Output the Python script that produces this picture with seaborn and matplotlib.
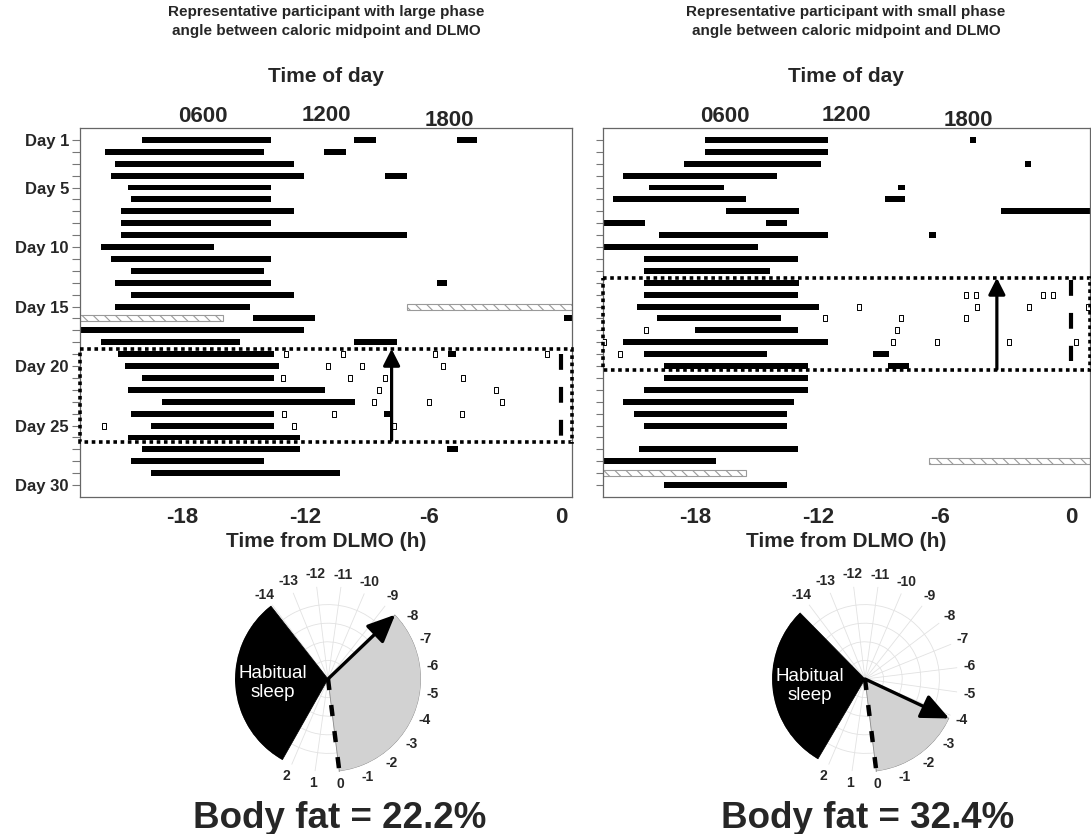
import numpy as np
import pandas as pd
import matplotlib
matplotlib.use("Agg")
import matplotlib.pyplot as plt
import matplotlib.transforms as mtransforms
from matplotlib.path import Path
from matplotlib.patches import Rectangle
import seaborn as sns

# ---------------- data ----------------
days = list(range(1, 31))
day_labels = [f"Day {d}" if (d == 1 or d % 5 == 0) else "" for d in days]

clock_ticks = [6, 12, 18]
clock_labels = ["0600", "1200", "1800"]
dlmo_labels = ["-18", "-12", "-6", "0"]
left_dlmo_ticks = [5.0, 11.0, 17.0, 23.5]      # clock hour of the DLMO-relative labels
right_dlmo_ticks = [4.56, 10.6, 16.6, 23.1]

# Left participant (large phase angle): black bars, clock hours
left_bar_day = [1, 1, 1, 2, 2, 3, 4, 4, 5, 6, 7, 8, 9, 10, 11, 12, 13, 13, 14, 15, 16, 16, 17,
                18, 18, 19, 19, 20, 21, 22, 23, 24, 24, 25, 26, 27, 27, 28, 29]
left_bar_start = [3.03, 13.39, 18.40, 1.20, 11.92, 1.71, 1.51, 14.90, 2.32, 2.51, 2.01, 2.01, 2.01,
                  1.01, 1.51, 2.51, 1.71, 17.40, 2.51, 1.71, 8.46, 23.6, 0.0, 1.01, 13.39, 1.83,
                  17.95, 2.19, 3.02, 2.32, 3.99, 2.51, 14.85, 3.47, 2.32, 3.02, 17.9, 2.51, 3.47]
left_bar_end = [9.32, 14.43, 19.39, 8.98, 12.96, 10.45, 10.95, 15.94, 9.32, 9.32, 10.45, 9.32, 15.94,
                6.52, 9.32, 8.98, 9.32, 17.92, 10.45, 8.31, 11.47, 24.0, 10.95, 7.79, 15.44, 9.48,
                18.35, 9.73, 9.48, 11.96, 13.43, 9.48, 15.1, 9.48, 10.72, 10.72, 18.44, 8.98, 12.69]
left_meal_day = [19, 19, 19, 19, 20, 20, 20, 21, 21, 21, 21, 22, 22, 23, 23, 23, 24, 24, 24, 25, 25, 25]
left_meal_time = [10.05, 12.82, 17.32, 22.78, 12.12, 13.77, 17.72, 9.91, 13.18, 14.9, 18.7,
                  14.6, 20.3, 14.33, 17.04, 20.57, 9.96, 12.37, 18.64, 1.15, 10.45, 15.33]
left_hatch_day = [15, 16]
left_hatch_start = [15.94, 0.0]
left_hatch_end = [24.0, 6.97]
left_window = [18.56, 26.34]        # day range of the dotted window
left_dlmo_line = 23.45               # clock hour of DLMO
left_dlmo_days = [19.0, 25.9]
left_cal_mid_clock = 15.2

# Right participant (small phase angle)
right_bar_day = [1, 1, 2, 3, 3, 4, 5, 5, 6, 6, 7, 7, 8, 8, 9, 9, 10, 11, 12, 13, 14, 15, 16, 17,
                 18, 19, 19, 20, 20, 21, 22, 23, 24, 25, 27, 28, 30]
right_bar_start = [5.02, 18.08, 5.02, 4.01, 20.82, 1.0, 2.25, 14.55, 0.49, 13.91, 6.04, 19.62, 0.0,
                   8.03, 2.76, 16.08, 0.0, 2.02, 2.02, 2.02, 2.02, 1.69, 2.66, 4.52, 1.0, 2.02, 13.3,
                   3.02, 14.04, 3.02, 2.02, 1.0, 1.51, 2.02, 1.76, 0.0, 3.02]
right_bar_end = [11.07, 18.39, 11.07, 10.74, 21.10, 8.57, 5.98, 14.88, 7.03, 14.89, 9.64, 24.0, 2.05,
                 9.08, 11.07, 16.42, 7.64, 9.59, 8.24, 9.64, 9.59, 10.66, 8.75, 9.59, 11.07, 8.06,
                 14.09, 10.08, 15.06, 10.08, 10.08, 9.39, 9.08, 9.08, 9.59, 5.57, 9.08]
right_meal_day = [14, 14, 14, 14, 15, 15, 15, 15, 16, 16, 16, 17, 17, 18, 18, 18, 18, 18, 19]
right_meal_time = [17.9, 18.39, 21.67, 22.17, 12.64, 18.42, 20.99, 23.9, 10.92, 14.71, 17.9,
                   2.1, 14.48, 0.07, 14.3, 16.47, 20.0, 23.32, 0.82]
right_hatch_day = [28, 29]
right_hatch_start = [16.08, 0.0]
right_hatch_end = [24.0, 7.03]
right_window = [12.59, 20.36]
right_dlmo_line = 23.05
right_dlmo_days = [12.8, 19.6]
right_cal_mid_clock = 19.41

# Polar summaries (hours relative to DLMO)
polar_hours = list(range(-21, 3))
left_sleep = [2.43, 9.93]
right_sleep = [2.5, 9.5]
left_cal_mid = -8.45
right_cal_mid = -3.86
body_fat = ["Body fat = 22.2%", "Body fat = 32.4%"]
titles = ["Representative participant with large phase\nangle between caloric midpoint and DLMO",
          "Representative participant with small phase\nangle between caloric midpoint and DLMO"]

# ---------------- style ----------------
sns.set_theme(style="white")
plt.rcParams["font.family"] = ["Liberation Sans", "DejaVu Sans"]
plt.rcParams["hatch.color"] = "#9a9a9a"
plt.rcParams["hatch.linewidth"] = 0.8

W, H = 1091, 834
fig = plt.figure(figsize=(W / 100, H / 100), dpi=100)

rect_marker = Path([(-0.35, -0.5), (0.35, -0.5), (0.35, 0.5), (-0.35, 0.5), (-0.35, -0.5)],
                   [Path.MOVETO, Path.LINETO, Path.LINETO, Path.LINETO, Path.CLOSEPOLY])


def actogram(ax, bd, bs, be, md, mt, hd, hs, he, window, dlmo_x, dlmo_days, cal_x,
             bottom_ticks, show_day_labels):
    bars = pd.DataFrame({"day": bd, "start": bs, "end": be})
    ax.barh(bars["day"], bars["end"] - bars["start"], left=bars["start"], height=0.5,
            color="black", edgecolor="none", zorder=2)
    hatch = pd.DataFrame({"day": hd, "start": hs, "end": he})
    ax.barh(hatch["day"], hatch["end"] - hatch["start"], left=hatch["start"], height=0.5,
            color="white", edgecolor="#9a9a9a", hatch="\\\\\\", linewidth=0.8, zorder=2)
    meals = pd.DataFrame({"time": mt, "day": md})
    sns.scatterplot(data=meals, x="time", y="day", ax=ax, marker=rect_marker, s=19,
                    color="white", edgecolor="black", linewidth=0.7, zorder=3, legend=False)
    # dotted analysis window
    ax.add_patch(Rectangle((0, window[0]), 24, window[1] - window[0], fill=False,
                           edgecolor="black", linewidth=2.6, linestyle=(0, (1, 1)),
                           clip_on=False, zorder=5))
    # DLMO dashed line
    ax.plot([dlmo_x, dlmo_x], dlmo_days, color="black", lw=3.0,
            linestyle=(0, (3.8, 4.1)), solid_capstyle="butt", zorder=4)
    # caloric midpoint arrow
    ax.annotate("", xy=(cal_x, window[0]), xytext=(cal_x, window[1] - 0.1),
                arrowprops=dict(arrowstyle="-|>,head_length=0.55,head_width=0.28",
                                lw=2.3, color="black", shrinkA=0, shrinkB=0,
                                mutation_scale=18), zorder=6)
    ax.set_xlim(0, 24)
    ax.set_ylim(31, 0)
    ax.set_xlabel("Time from DLMO (h)", fontsize=15, fontweight="bold", labelpad=3)
    ax.set_ylabel("")
    ax.set_xticks(bottom_ticks, labels=dlmo_labels)
    ax.tick_params(axis="x", length=0, pad=7, labelsize=16)
    for lbl in ax.get_xticklabels():
        lbl.set_fontweight("bold")
    if show_day_labels:
        ax.set_yticks(days, labels=day_labels)
        ax.tick_params(axis="y", left=True, length=6, width=0.8, color="#777777",
                       direction="out", pad=2, labelsize=12)
        for lbl in ax.get_yticklabels():
            lbl.set_fontweight("bold")
    else:
        ax.set_yticks(days, labels=[])
        ax.tick_params(axis="y", left=True, length=5, width=0.8, color="#777777",
                       direction="out")
    for sp in ax.spines.values():
        sp.set_color("#666666")
        sp.set_linewidth(0.9)
    sec = ax.secondary_xaxis("top")
    sec.set_xticks(clock_ticks, labels=clock_labels)
    sec.tick_params(axis="x", length=0, pad=0.5, labelsize=16)
    sec.spines["top"].set_visible(False)
    for lbl, dy in zip(sec.get_xticklabels(), [0, 1.2, -2.5]):
        lbl.set_fontweight("bold")
        lbl.set_transform(lbl.get_transform() +
                          mtransforms.ScaledTranslation(0, dy / 72, fig.dpi_scale_trans))


TWO_PI = 2 * np.pi


def to_theta(h):
    return np.mod(-np.deg2rad(np.asarray(h, dtype=float) * 15.0), TWO_PI)


def polar(pax, sleep, cal_mid, text_y):
    pax.set_theta_zero_location("S", offset=7)
    pax.set_theta_direction(1)
    t_sleep0, t_sleep1 = to_theta(sleep[0]), to_theta(sleep[1])
    lo, hi = min(t_sleep0, t_sleep1), max(t_sleep0, t_sleep1)
    pax.bar((lo + hi) / 2, 1.0, width=hi - lo, bottom=0, color="black",
            edgecolor="black", linewidth=0.5, zorder=2)
    g_hi = float(to_theta(cal_mid))
    pax.bar(g_hi / 2, 1.0, width=g_hi, bottom=0, color="#d2d2d2",
            edgecolor="#8a8a8a", linewidth=0.6, zorder=2)
    pax.plot([0, 0], [0, 1], color="black", lw=3.2, linestyle=(0, (2.5, 3.4)),
             solid_capstyle="butt", zorder=3)
    pax.annotate("", xy=(g_hi, 1.0), xytext=(0, 0),
                 arrowprops=dict(arrowstyle="-|>,head_length=0.85,head_width=0.38",
                                 lw=2.4, color="black", shrinkA=0, shrinkB=0,
                                 mutation_scale=20), zorder=4)
    pax.set_xticks(to_theta(polar_hours))
    pax.set_xticklabels([str(h) if h >= -14 else "" for h in polar_hours],
                        fontsize=10, fontweight="bold")
    pax.tick_params(axis="x", pad=-4)
    pax.set_yticks([0.2, 0.4, 0.6, 0.8])
    pax.set_yticklabels([])
    pax.grid(True, color="#e2e2e2", lw=0.6)
    pax.set_axisbelow(True)
    pax.spines["polar"].set_color("#9a9a9a")
    pax.spines["polar"].set_linewidth(0.8)
    pax.set_facecolor("white")
    pax.set_xlim(0, TWO_PI)
    pax.set_ylim(0, 1)
    pax.text(0.204, text_y, "Habitual\nsleep", transform=pax.transAxes, color="white",
             ha="center", va="center", fontsize=13.5, linespacing=1.15, zorder=5)


axL = fig.add_axes([80 / W, 1 - 497 / H, 492 / W, 369 / H])
axR = fig.add_axes([603 / W, 1 - 497 / H, 487 / W, 369 / H])
actogram(axL, left_bar_day, left_bar_start, left_bar_end, left_meal_day, left_meal_time,
         left_hatch_day, left_hatch_start, left_hatch_end, left_window, left_dlmo_line,
         left_dlmo_days, left_cal_mid_clock, left_dlmo_ticks, True)
actogram(axR, right_bar_day, right_bar_start, right_bar_end, right_meal_day, right_meal_time,
         right_hatch_day, right_hatch_start, right_hatch_end, right_window, right_dlmo_line,
         right_dlmo_days, right_cal_mid_clock, right_dlmo_ticks, False)

pL = fig.add_axes([235 / W, 1 - 772 / H, 186 / W, 186 / H], projection="polar")
pR = fig.add_axes([772 / W, 1 - 772 / H, 186 / W, 186 / H], projection="polar")
polar(pL, left_sleep, left_cal_mid, 0.48)
polar(pR, right_sleep, right_cal_mid, 0.46)

for cx, ttl in zip([326, 846], titles):
    fig.text(cx / W, 1 - 5 / H, ttl, ha="center", va="top", fontsize=11,
             fontweight="bold", linespacing=1.5)
    fig.text(cx / W, 1 - 76 / H, "Time of day", ha="center", va="center", fontsize=15,
             fontweight="bold")
for cx, bf in zip([340, 868], body_fat):
    fig.text(cx / W, 1 - 828 / H, bf, ha="center", va="baseline", fontsize=26.5,
             fontweight="bold")

fig.savefig("out.png", dpi=100)
